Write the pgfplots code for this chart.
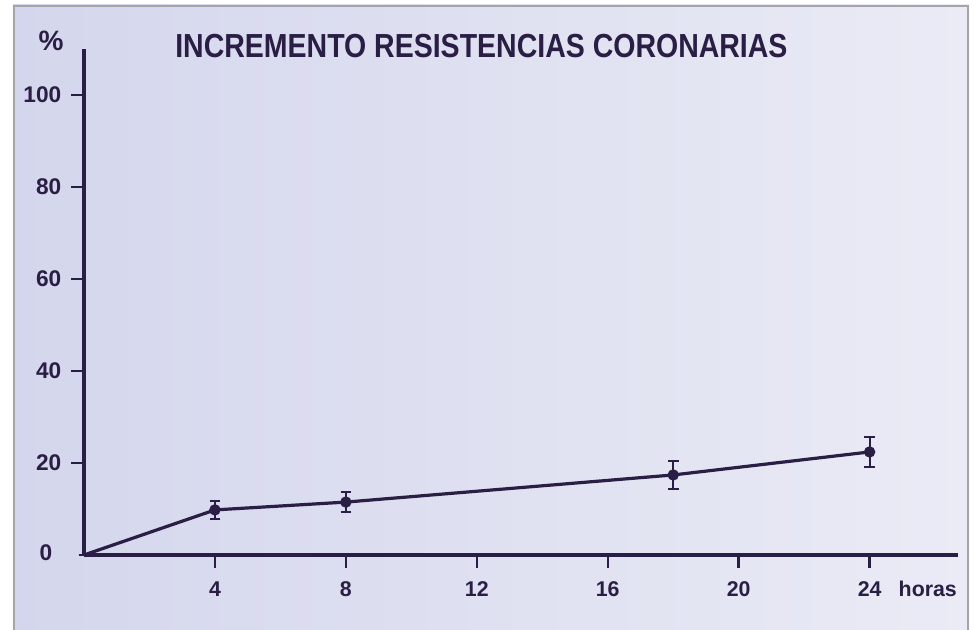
\documentclass[border=0pt]{standalone}
\usepackage{pgfplots}
\pgfplotsset{compat=1.18}
\usepackage{fontspec}
\setmainfont{Liberation Sans}
\definecolor{ink}{RGB}{42,30,68}
\definecolor{bgl}{RGB}{212,214,237}
\definecolor{bgr}{RGB}{234,235,245}
\definecolor{frame}{RGB}{165,165,168}
\begin{document}
\begin{tikzpicture}[x=0.75pt,y=0.75pt]
% pixel coordinates relative to axis origin at (84,555)
\path[use as bounding box] (-84,-75) rectangle (891,555);
\fill[white] (-84,-75) rectangle (891,555);
\shade[left color=bgl,right color=bgr] (-71,-75) rectangle (885,550);
\draw[frame,line width=2.2pt] (-70,-76) -- (-70,549) -- (884,549) -- (884,-76);
\begin{axis}[
  at={(0,0)}, anchor=origin,
  scale only axis,
  width=655.5pt, height=379.5pt,
  xmin=0, xmax=26.7, ymin=0, ymax=110,
  axis x line=bottom, axis y line=left,
  axis line style={ink,line width=2.4pt,-},
  xtick={4,8,12,16,20,24},
  ytick={20,40,60,80,100},
  tick style={ink,line width=1.8pt},
  tick align=outside,
  major tick length=9.5pt,
  xticklabel style={font=\fontsize{16}{16}\selectfont\bfseries,text=ink,yshift=-7pt},
  yticklabel style={font=\fontsize{17}{17}\selectfont\bfseries,text=ink,xshift=-4pt},
  /pgf/number format/assume math mode=true,
  clip=false,
]
\addplot[ink,line width=2.4pt,mark=*,mark size=3pt,mark indices={2,3,4,5},
  error bars/.cd, y dir=both, y explicit,
  error bar style={line width=1.4pt,ink},
  error mark options={rotate=90,mark size=4pt,line width=1.4pt,ink}]
  coordinates {(0,0) +- (0,0) (4,9.8) +- (0,2.0) (8,11.5) +- (0,2.2) (18,17.4) +- (0,3.0) (24,22.4) +- (0,3.3)};
\end{axis}
\node[anchor=base east,text=ink,font=\fontsize{17}{17}\selectfont\bfseries] at (-27,-6) {0};
\node[anchor=base west,text=ink,font=\fontsize{16}{16}\selectfont\bfseries] at (810,-42) {horas};
\node[anchor=base west,text=ink,font=\fontsize{21}{21}\selectfont\bfseries] at (-50,504) {\%};
\node[anchor=base west,text=ink,inner sep=0pt] at (91,497) {\scalebox{0.855}[1]{\fontsize{25}{25}\selectfont\bfseries INCREMENTO RESISTENCIAS CORONARIAS}};
\end{tikzpicture}
\end{document}
